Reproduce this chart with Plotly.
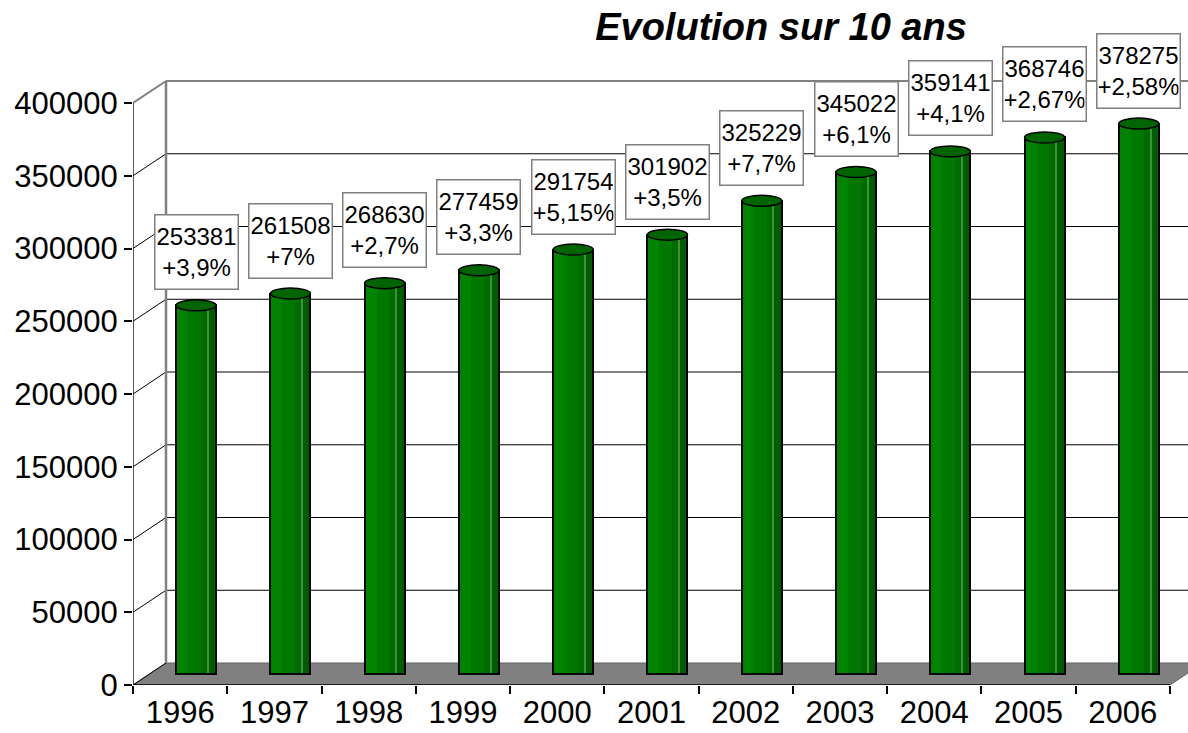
import plotly.graph_objects as go

# ---------------- data ----------------
years = ["1996", "1997", "1998", "1999", "2000", "2001",
         "2002", "2003", "2004", "2005", "2006"]
values = [253381, 261508, 268630, 277459, 291754, 301902,
          325229, 345022, 359141, 368746, 378275]
growth = ["+3,9%", "+7%", "+2,7%", "+3,3%", "+5,15%", "+3,5%",
          "+7,7%", "+6,1%", "+4,1%", "+2,67%", "+2,58%"]
y_ticks = [0, 50000, 100000, 150000, 200000, 250000, 300000, 350000, 400000]
title_text = "Evolution sur 10 ans"

# ---------------- geometry (pixels -> data units) ----------------
W, H = 1188, 733
ML, MR, MT, MB = 133, 0, 30, 48
PX_PER_CAT = 94.27
PX_PER_VAL = 582 / 400000
DX = 33 / PX_PER_CAT            # depth shift, x
DY = 22 / PX_PER_VAL            # depth shift, y
BAR_SHIFT = 16 / PX_PER_CAT     # bar centre shift (half depth)
HALF_DY = 11 / PX_PER_VAL
BAR_W = 40 / PX_PER_CAT
ELL_RY = 5.5 / PX_PER_VAL

n = len(years)
xpos = list(range(n))
x_min = -0.5
x_max = -0.5 + (W - ML - MR) / PX_PER_CAT
y_max = (H - MT - MB) / PX_PER_VAL
top_val = y_ticks[-1]

FONT = "Liberation Sans, Arial, sans-serif"

fig = go.Figure()

# cylinder bodies built from layered bars (fake shading)
layers = [
    (0.00, 1.00, "#006c00"),
    (0.00, 0.62, "#007800"),
    (0.00, 0.30, "#008400"),
    (0.80, 1.00, "#005c00"),
    (0.78, 0.81, "#3a943a"),
]
for s, e, col in layers:
    fig.add_trace(go.Bar(
        x=xpos, y=values, base=HALF_DY,
        width=BAR_W * (e - s),
        offset=BAR_SHIFT - BAR_W / 2 + BAR_W * s,
        marker=dict(color=col, line=dict(width=0)),
        hoverinfo="skip", showlegend=False,
    ))
# outline
fig.add_trace(go.Bar(
    x=xpos, y=values, base=HALF_DY, width=BAR_W,
    offset=BAR_SHIFT - BAR_W / 2,
    marker=dict(color="rgba(0,0,0,0)", line=dict(color="black", width=2)),
    showlegend=False, hovertemplate="%{x}: %{y}<extra></extra>",
))

shapes = []
# floor
shapes.append(dict(
    type="path", xref="x", yref="y", layer="below",
    path=f"M {x_min},0 L {n - 0.5},0 L {n - 0.5 + DX},{DY} L {x_min + DX},{DY} Z",
    fillcolor="#808080", line=dict(color="#606060", width=1),
))
# back wall grid lines + left wall diagonals
for v in y_ticks:
    edge = (v == top_val)
    col = "#808080" if edge else "black"
    wdt = 2 if edge else 1
    if v > 0:
        shapes.append(dict(type="line", xref="x", yref="y", layer="below",
                           x0=x_min + DX, x1=x_max + 1, y0=v + DY, y1=v + DY,
                           line=dict(color=col, width=wdt)))
    shapes.append(dict(type="line", xref="x", yref="y", layer="below",
                       x0=x_min, x1=x_min + DX, y0=v, y1=v + DY,
                       line=dict(color=col, width=wdt)))
# back wall left vertical edge
shapes.append(dict(type="line", xref="x", yref="y", layer="below",
                   x0=x_min + DX, x1=x_min + DX, y0=DY, y1=top_val + DY,
                   line=dict(color="#808080", width=2.5)))
# front value axis line
shapes.append(dict(type="line", xref="x", yref="y", layer="above",
                   x0=x_min, x1=x_min, y0=0, y1=top_val,
                   line=dict(color="#222222", width=1.5)))
# front category axis line
shapes.append(dict(type="line", xref="x", yref="y", layer="above",
                   x0=x_min, x1=n - 0.5, y0=0, y1=0,
                   line=dict(color="black", width=1.5)))
# cylinder tops
for i, v in zip(xpos, values):
    cx = i + BAR_SHIFT
    cy = v + HALF_DY
    shapes.append(dict(type="circle", xref="x", yref="y", layer="above",
                       x0=cx - BAR_W / 2, x1=cx + BAR_W / 2,
                       y0=cy - ELL_RY, y1=cy + ELL_RY,
                       fillcolor="#006400", line=dict(color="black", width=1.5)))

annotations = []
for i, (v, g) in enumerate(zip(values, growth)):
    annotations.append(dict(
        x=xpos[i] + BAR_SHIFT, y=v + HALF_DY, xref="x", yref="y",
        yanchor="bottom", xanchor="center", yshift=15,
        text=f"{v}<br>{g}", showarrow=False,
        font=dict(family=FONT, size=24, color="black"),
        bgcolor="white", bordercolor="#808080", borderwidth=1.5,
        borderpad=1, width=80, height=71, align="center",
    ))

fig.update_layout(
    width=W, height=H,
    margin=dict(l=ML, r=MR, t=MT, b=MB, pad=0),
    paper_bgcolor="white", plot_bgcolor="white",
    barmode="overlay", bargap=0,
    showlegend=False,
    font=dict(family=FONT, color="black"),
    title=dict(text=f"<b><i>{title_text}</i></b>",
               font=dict(family=FONT, size=38, color="black"),
               x=781 / W, xanchor="center", y=1 - 27 / H, yanchor="middle"),
    xaxis=dict(
        range=[x_min, x_max], showgrid=False, zeroline=False, showline=False,
        tickmode="array", tickvals=xpos, ticktext=years, ticks="",
        tickfont=dict(family=FONT, size=31, color="black"),
        ticklabelstandoff=6,
        automargin=False,
        minor=dict(ticks="outside", ticklen=8, tickwidth=1.5, tickcolor="black",
                   tick0=-0.5, dtick=1, showgrid=False),
    ),
    yaxis=dict(
        range=[0, y_max], showgrid=False, zeroline=False, showline=False,
        tickmode="array", tickvals=y_ticks, ticktext=[str(t) for t in y_ticks],
        ticks="outside", ticklen=8, tickwidth=1.5, tickcolor="black",
        tickfont=dict(family=FONT, size=31, color="black"),
        automargin=False,
    ),
    shapes=shapes, annotations=annotations,
)

fig.write_html(
    "out.html",
    config={"displayModeBar": False},
    post_script="document.body.style.margin='0';document.body.style.overflow='hidden';",
)
